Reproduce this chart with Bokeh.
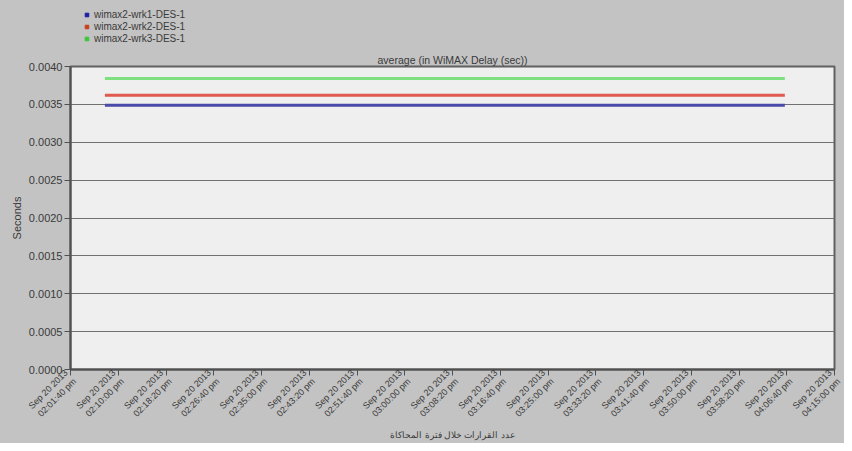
from math import pi
from bokeh.plotting import figure
from bokeh.layouts import column
from bokeh.models import (Range1d, FixedTicker, Legend, LegendItem, Title,
                          NumeralTickFormatter, ColumnDataSource)
from bokeh.embed import file_html
from bokeh.resources import INLINE

# ---- data (x in seconds after 02:01:40 pm) ----
series_names = ["wimax2-wrk1-DES-1", "wimax2-wrk2-DES-1", "wimax2-wrk3-DES-1"]
times_s = [360, 1500, 3000, 4500, 6000, 7480]
delay_wrk1 = [0.00349, 0.00349, 0.00349, 0.00349, 0.00349, 0.00349]
delay_wrk2 = [0.00362, 0.00362, 0.00362, 0.00362, 0.00362, 0.00362]
delay_wrk3 = [0.00384, 0.00384, 0.00384, 0.00384, 0.00384, 0.00384]

tick_seconds = [0, 500, 1000, 1500, 2000, 2500, 3000, 3500, 4000, 4500,
                5000, 5500, 6000, 6500, 7000, 7500, 8000]
tick_times = ["02:01:40 pm", "02:10:00 pm", "02:18:20 pm", "02:26:40 pm",
              "02:35:00 pm", "02:43:20 pm", "02:51:40 pm", "03:00:00 pm",
              "03:08:20 pm", "03:16:40 pm", "03:25:00 pm", "03:33:20 pm",
              "03:41:40 pm", "03:50:00 pm", "03:58:20 pm", "04:06:40 pm",
              "04:15:00 pm"]
tick_date = "Sep 20 2013"
y_ticks = [0.0, 0.0005, 0.0010, 0.0015, 0.0020, 0.0025, 0.0030, 0.0035, 0.0040]

title_text = "average (in WiMAX Delay (sec))"
y_label = "Seconds"
x_label = "عدد القرارات خلال فترة المحاكاة"

line_colors = ["#4a4aa8", "#e05a50", "#7ee07e"]
legend_colors = ["#1c1ca6", "#c8401c", "#38c838"]

BG = "#c3c3c3"
FONT = "Liberation Sans"
TXT = "#3a3a3a"


def safe_set(obj, **kw):
    props = obj.properties()
    for k, v in kw.items():
        if k in props:
            try:
                setattr(obj, k, v)
            except Exception:
                pass


sources = [ColumnDataSource(dict(x=times_s, y=vals))
           for vals in (delay_wrk1, delay_wrk2, delay_wrk3)]

# ---------------- key strip (top) ----------------
k = figure(width=844, height=50, output_backend="svg", toolbar_location=None,
           x_axis_type=None, y_axis_type=None,
           min_border_left=0, min_border_right=0, min_border_top=0,
           min_border_bottom=0)
k.background_fill_alpha = 0
k.border_fill_color = BG
k.outline_line_color = None
k.grid.visible = False
items = []
for name, src, kcol in zip(series_names, sources, legend_colors):
    r = k.scatter("x", "y", source=src, marker="square", size=8,
                  fill_color=kcol, line_color=kcol)
    r.visible = False
    items.append(LegendItem(label=name, renderers=[r]))
legend = Legend(items=items, location=(12, 6), background_fill_alpha=0,
                border_line_color=None, label_text_font=FONT,
                label_text_font_size="10px", label_text_color=TXT,
                glyph_width=9, glyph_height=9, label_height=11,
                spacing=1, padding=0, margin=0, label_standoff=3,
                inactive_fill_alpha=0, click_policy="none")
k.add_layout(legend, "center")

# ---------------- main chart ----------------
p = figure(width=844, height=393, output_backend="svg", toolbar_location=None,
           x_range=Range1d(0, 8000), y_range=Range1d(0, 0.0040),
           min_border_left=70, min_border_right=10, min_border_top=16,
           min_border_bottom=71,
           title=Title(text=title_text, align="center", text_font=FONT,
                       text_font_size="10.5px", text_font_style="normal",
                       text_color=TXT, standoff=2))
p.background_fill_color = "#efefef"
p.border_fill_color = BG
p.outline_line_color = "#606060"
p.outline_line_width = 2

# grid
p.xgrid.visible = False
p.ygrid.ticker = FixedTicker(ticks=y_ticks)
p.ygrid.grid_line_color = "#707070"
p.ygrid.grid_line_width = 1

# axes
p.yaxis.ticker = FixedTicker(ticks=y_ticks)
p.yaxis.formatter = NumeralTickFormatter(format="0.0000")
p.xaxis.ticker = FixedTicker(ticks=tick_seconds)
p.xaxis.major_label_overrides = {s: f"{tick_date}\n{t}" for s, t in zip(tick_seconds, tick_times)}
p.xaxis.major_label_orientation = pi / 4
for ax in (p.xaxis, p.yaxis):
    ax.axis_line_color = "#505050"
    ax.axis_line_width = 2
    ax.major_tick_line_color = "#505050"
    ax.major_tick_out = 6
    ax.major_tick_in = 0
    ax.minor_tick_line_color = None
    ax.major_label_text_font = FONT
    ax.major_label_text_color = TXT
    ax.axis_label_text_font = FONT
    ax.axis_label_text_font_style = "normal"
    ax.axis_label_text_color = TXT
p.yaxis.major_label_text_font_size = "11px"
p.xaxis.major_label_text_font_size = "9px"
p.yaxis.major_label_standoff = 2
p.xaxis.major_label_standoff = 0

p.yaxis.axis_label = y_label
p.yaxis.axis_label_text_font_size = "11px"
p.yaxis.axis_label_standoff = 3
p.xaxis.axis_label = x_label
p.xaxis.axis_label_text_font_size = "8.5px"
p.xaxis.axis_label_standoff = 0
for ax in (p.xaxis[0], p.yaxis[0]):
    safe_set(ax, axis_label_background_fill_color="white")

for src, col in zip(sources, line_colors):
    p.line("x", "y", source=src, line_color=col, line_width=3)

layout = column(k, p, spacing=0, styles={"background-color": BG})
open("out.html", "w").write(file_html(layout, INLINE))
